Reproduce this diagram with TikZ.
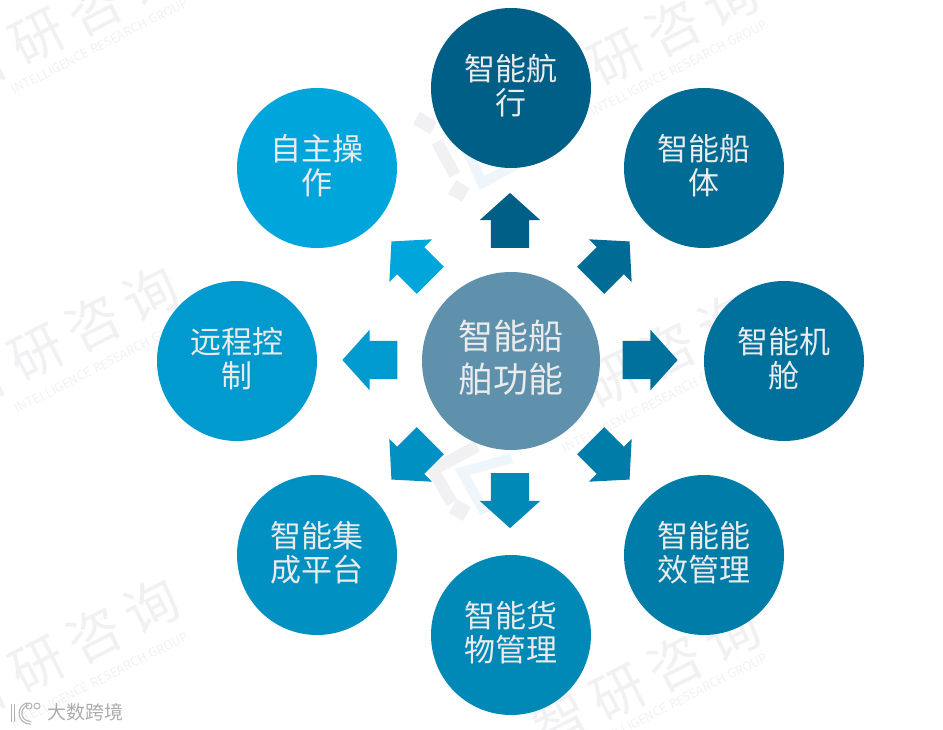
\documentclass[tikz,border=0pt]{standalone}
\usepackage{fontspec}
\setmainfont{Noto Sans CJK SC}
\usetikzlibrary{shapes.arrows}
\definecolor{hubcol}{HTML}{5F91AD}
\definecolor{navcol}{HTML}{005F87}
\definecolor{hullcol}{HTML}{006B94}
\definecolor{enginecol}{HTML}{00719C}
\definecolor{energycol}{HTML}{007CA8}
\definecolor{cargocol}{HTML}{0088B7}
\definecolor{platcol}{HTML}{0090C2}
\definecolor{remotecol}{HTML}{009ACF}
\definecolor{autocol}{HTML}{00A5DC}
\definecolor{markgray}{HTML}{F1F1F3}
\definecolor{markblue}{HTML}{EEF6FB}
\newcommand{\markname}{智\hspace{10pt}研\hspace{10pt}咨\hspace{10pt}询}
\tikzset{
  hub/.style      = {circle, fill=hubcol, minimum size=178pt, inner sep=0pt, text=white!92!black,
                     align=center, font=\fontsize{35}{43}\selectfont,
                     execute at end node={\rule[-10pt]{0pt}{1pt}}},
  func/.style     = {circle, minimum size=160pt, inner sep=0pt, text=white!92!black,
                     align=center, font=\fontsize{31}{34}\selectfont,
                     execute at end node={\rule[-8pt]{0pt}{1pt}}},
  blockarr/.style = {single arrow, draw=none, inner xsep=0pt, inner ysep=19pt, minimum height=55pt,
                     minimum width=60pt, single arrow head extend=11pt, single arrow tip angle=96},
  markword/.style = {rotate=27, text=markgray, font=\fontsize{54}{54}\selectfont},
  marksub/.style  = {rotate=27, text=markgray, font=\fontsize{12.5}{14}\selectfont},
  graybit/.style  = {line width=12pt, markgray},
  bluebit/.style  = {line width=10pt, markblue},
  logoline/.style = {gray!60, line width=1.2pt, double=white, double distance=1.4pt},
}
\begin{document}
\begin{tikzpicture}[x=1pt,y=-1pt]
\useasboundingbox (0,0) rectangle (943,730);
% watermark
\node[markword] (w1) at (66,22) {\markname};
\node[marksub]  (s1) at (100,46) {INTELLIGENCE RESEARCH GROUP};
\node[markword] (w2) at (65,338) {\markname};
\node[marksub]  (s2) at (103,365) {INTELLIGENCE RESEARCH GROUP};
\node[markword] (w3) at (66,650) {\markname};
\node[marksub]  (s3) at (100,680) {INTELLIGENCE RESEARCH GROUP};
\node[markword] (w4) at (645,43) {\markname};
\node[marksub]  (s4) at (679,68) {INTELLIGENCE RESEARCH GROUP};
\node[markword] (w5) at (640,365) {\markname};
\node[marksub]  (s5) at (651,405) {INTELLIGENCE RESEARCH GROUP};
\node[markword] (w6) at (647,678) {\markname};
\node[marksub]  (s6) at (679,701) {INTELLIGENCE RESEARCH GROUP};
\fill[markgray, rotate around={-30:(425,123)}] (415,116) rectangle (435,130);
\draw[graybit] (437,142) -- (455,175);
\fill[markgray, rotate around={-30:(459,191)}] (451,183) rectangle (467,199);
\draw[bluebit] (467,150) -- (482,183) -- (525,160);
\draw[graybit] (477,446) -- (433,470) -- (452,503);
\fill[markgray, rotate around={-30:(460,510)}] (452,502) rectangle (468,518);
\draw[bluebit] (512,458) -- (462,472) -- (485,513);
% circles
\node[hub]  (hub)    at (511,361) {智能船\\舶功能};
\node[func, fill=navcol]    (nav)    at (511,88)  {智能航\\行};
\node[func, fill=hullcol]   (hull)   at (704,168) {智能船\\体};
\node[func, fill=enginecol] (engine) at (784,361) {智能机\\舱};
\node[func, fill=energycol] (energy) at (704,555) {智能能\\效管理};
\node[func, fill=cargocol]  (cargo)  at (511,635) {智能货\\物管理};
\node[func, fill=platcol]   (plat)   at (317,555) {智能集\\成平台};
\node[func, fill=remotecol] (remote) at (237,361) {远程控\\制};
\node[func, fill=autocol]   (auto)   at (317,168) {自主操\\作};
% arrows
\node[blockarr, fill=navcol, rotate=90]     (a1) at (510,229) {};
\node[blockarr, fill=hullcol, rotate=45]    (a2) at (604,267) {};
\node[blockarr, fill=enginecol, rotate=0]   (a3) at (641.5,360) {};
\node[blockarr, fill=energycol, rotate=-45] (a4) at (604,454) {};
\node[blockarr, fill=cargocol, rotate=-90]  (a5) at (510,492) {};
\node[blockarr, fill=platcol, rotate=-135]  (a6) at (417,454) {};
\node[blockarr, fill=remotecol, rotate=180] (a7) at (378.5,360) {};
\node[blockarr, fill=autocol, rotate=135]   (a8) at (417,267) {};
% corner logo
\node[text=gray!65, font=\fontsize{19}{19}\selectfont, inner sep=0pt] (brand) at (85,712) {大数跨境};
\draw[logoline] (13,704) -- (13,722);
\draw[logoline] (28,704) .. controls (18,706) and (17,722) .. (31,723);
\draw[gray!60, line width=1pt] (29,706) circle (3pt) (37,706) circle (3pt);
\end{tikzpicture}
\end{document}
